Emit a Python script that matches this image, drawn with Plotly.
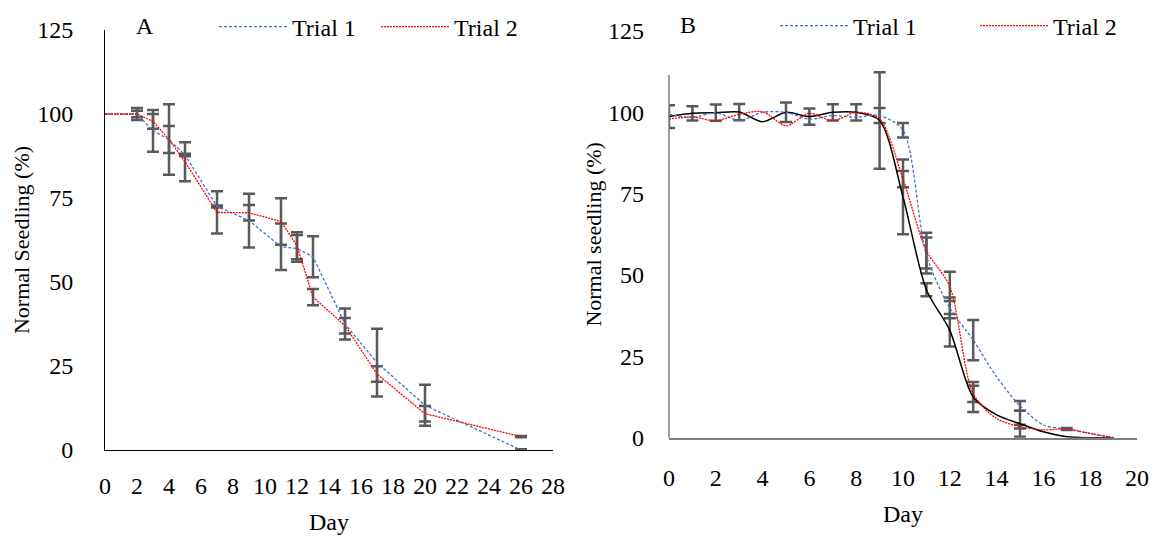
import plotly.graph_objects as go

# ---------------- Panel A data ----------------
days_A = [0, 2, 3, 4, 5, 7, 9, 11, 12, 13, 15, 17, 20, 26]
trial1_A = [100, 100, 95.0, 92.4, 87.8, 72.5, 68.3, 60.5, 60.0, 57.5, 37.5, 26.0, 13.3, 0]
trial1_A_err = [None, 1.0, 6.2, 10.5, 0.4, 0.3, 8.0, 6.9, 4.0, 6.1, 4.6, 10.1, 6.1, 0.2]
trial2_A = [100, 100, 97.8, 92.4, 85.8, 70.7, 70.6, 68.0, 60.8, 45.5, 37.0, 22.6, 10.8, 4.0]
trial2_A_err = [None, 1.8, 2.2, 4.0, 5.8, 6.3, 2.3, 6.9, 4.0, 2.4, 2.3, 2.3, 2.3, 0.2]

# ---------------- Panel B data ----------------
days_B = list(range(0, 20))
trial1_B = [99.4, 98.4, 99.9, 97.5, 100, 100, 97.9, 99.0, 98.5, 99.0, 94.5, 56.0, 39.9,
            30.0, 18.7, 9.8, 3.9, 2.6, 1.3, 0]
trial1_B_err = [None, None, None, None, None, None, None, None, None, 2.3, 2.2, 5.5, 3.2,
                6.2, None, 1.5, None, None, None, None]
trial2_B = [97.9, 98.6, 97.4, 99.4, 100.2, 95.9, 99.7, 97.4, 100, 98.0, 79.5, 57.5, 46.5,
            13.5, 5.9, 3.4, 2.4, 2.7, 1.3, 0]
trial2_B_err = [None, None, None, None, None, None, None, None, None, None, 2.5, 5.5, 4.5,
                2.5, None, 0.6, None, 0.3, None, None]
black_B = [98.7, 99.7, 99.9, 100.1, 97.1, 100, 98.7, 100, 100, 97.5, 74.0, 45.5, 33.0,
           12.5, 7.0, 4.3, 1.8, 0.3, 0, 0]
black_B_err = [3.5, 2.2, 2.5, 2.5, None, 3.0, 2.5, 2.5, 2.5, 14.8, 11.5, 2.0, 5.0,
               4.6, None, 4.0, None, None, None, None]

x_ticks_A = list(range(0, 29, 2))
x_ticks_B = list(range(0, 21, 2))
y_ticks = [0, 25, 50, 75, 100, 125]

FONT = "Liberation Serif"
BLUE = "#4472C4"
RED = "#FF0000"
ERR = "#595959"
AXGREY = "#7f7f7f"

# the page body has an 8px margin: the figure is sized to fit the 1159x540 window
OFF = 8
W, H = 1159 - OFF, 540 - OFF


def fx(x):
    return (x - OFF) / W


def fy(y):
    return 1 - (y - OFF) / H


def add_errorbars(fig, days, vals, errs, xa, ya):
    """Error bars only at the points that have one (drawn beneath the lines)."""
    keep = [i for i, e in enumerate(errs) if e is not None]
    fig.add_trace(go.Scatter(
        x=[days[i] for i in keep], y=[vals[i] for i in keep],
        mode="markers", marker=dict(size=1, opacity=0), showlegend=False, hoverinfo="skip",
        error_y=dict(type="data", array=[errs[i] for i in keep], symmetric=True,
                     color=ERR, thickness=2.5, width=6),
        xaxis=xa, yaxis=ya))


fig = go.Figure()

# error bars first
add_errorbars(fig, days_A, trial1_A, trial1_A_err, "x", "y")
add_errorbars(fig, days_A, trial2_A, trial2_A_err, "x", "y")
add_errorbars(fig, days_B, black_B, black_B_err, "x2", "y2")
add_errorbars(fig, days_B, trial1_B, trial1_B_err, "x2", "y2")
add_errorbars(fig, days_B, trial2_B, trial2_B_err, "x2", "y2")

# lines
fig.add_trace(go.Scatter(x=days_A, y=trial1_A, name="Trial 1", mode="lines",
                         line=dict(color=BLUE, width=1.3, dash="3px,2px"),
                         xaxis="x", yaxis="y", legend="legend"))
fig.add_trace(go.Scatter(x=days_A, y=trial2_A, name="Trial 2", mode="lines",
                         line=dict(color=RED, width=1.3, dash="2px,1px"),
                         xaxis="x", yaxis="y", legend="legend"))

fig.add_trace(go.Scatter(x=days_B, y=black_B, name="Mean", mode="lines", showlegend=False,
                         line=dict(color="black", width=1.5, shape="spline", smoothing=0.8),
                         xaxis="x2", yaxis="y2"))
fig.add_trace(go.Scatter(x=days_B, y=trial1_B, name="Trial 1", mode="lines",
                         line=dict(color=BLUE, width=1.3, dash="3px,2px", shape="spline", smoothing=0.8),
                         xaxis="x2", yaxis="y2", legend="legend2"))
fig.add_trace(go.Scatter(x=days_B, y=trial2_B, name="Trial 2", mode="lines",
                         line=dict(color=RED, width=1.3, dash="2px,1px", shape="spline", smoothing=0.8),
                         xaxis="x2", yaxis="y2", legend="legend2"))

tickfont = dict(family=FONT, size=24, color="black")
ytitlefont = dict(family=FONT, size=22, color="black")
xtitlefont = dict(family=FONT, size=24, color="black")

fig.update_layout(
    width=W, height=H,
    margin=dict(l=0, r=0, t=0, b=0, autoexpand=False),
    paper_bgcolor="white", plot_bgcolor="white",
    font=dict(family=FONT, size=24, color="black"),
    xaxis=dict(domain=[fx(105), fx(553)], range=[0, 28], tickvals=x_ticks_A, automargin=False,
               showline=True, linecolor="black", linewidth=1, showgrid=False, zeroline=False,
               ticks="", tickfont=tickfont, ticklabelstandoff=14,
               title=dict(text="Day", font=xtitlefont, standoff=15), anchor="y"),
    yaxis=dict(domain=[fy(450), fy(30)], range=[0, 125], tickvals=y_ticks, automargin=False,
               showline=True, linecolor="black", linewidth=1, showgrid=False, zeroline=False,
               ticks="", tickfont=tickfont, ticklabelstandoff=26,
               title=dict(text="Normal Seedling (%)", font=ytitlefont, standoff=1), anchor="x"),
    xaxis2=dict(domain=[fx(669), fx(1137)], range=[0, 20], tickvals=x_ticks_B, automargin=False,
                showline=True, linecolor=AXGREY, linewidth=1.5, showgrid=False, zeroline=False,
                ticks="", tickfont=tickfont, ticklabelstandoff=18,
                title=dict(text="Day", font=xtitlefont, standoff=15), anchor="y2"),
    yaxis2=dict(domain=[fy(437.7), fy(31)], range=[0, 125], tickvals=y_ticks, automargin=False,
                showline=False, showgrid=False, zeroline=False,
                ticks="", tickfont=tickfont, ticklabelstandoff=24,
                title=dict(text="Normal seedling (%)", font=ytitlefont, standoff=0), anchor="x2"),
    legend=dict(x=fx(214), y=fy(27), xanchor="left", yanchor="middle", orientation="h",
                font=dict(family=FONT, size=24), bgcolor="rgba(0,0,0,0)", itemwidth=68,
                entrywidth=79, entrywidthmode="pixels", traceorder="normal"),
    legend2=dict(x=fx(775), y=fy(26), xanchor="left", yanchor="middle", orientation="h",
                 font=dict(family=FONT, size=24), bgcolor="rgba(0,0,0,0)", itemwidth=68,
                 entrywidth=117, entrywidthmode="pixels", traceorder="normal"),
    annotations=[
        dict(text="A", x=fx(145), y=fy(26), xref="paper", yref="paper", showarrow=False,
             xanchor="center", yanchor="middle", font=dict(family=FONT, size=24)),
        dict(text="B", x=fx(688), y=fy(25), xref="paper", yref="paper", showarrow=False,
             xanchor="center", yanchor="middle", font=dict(family=FONT, size=24)),
    ],
    shapes=[
        dict(type="line", xref="paper", yref="paper", x0=fx(669), x1=fx(669),
             y0=fy(437.7), y1=fy(75), line=dict(color=AXGREY, width=1.5)),
    ],
)

fig.write_html("out.html")
